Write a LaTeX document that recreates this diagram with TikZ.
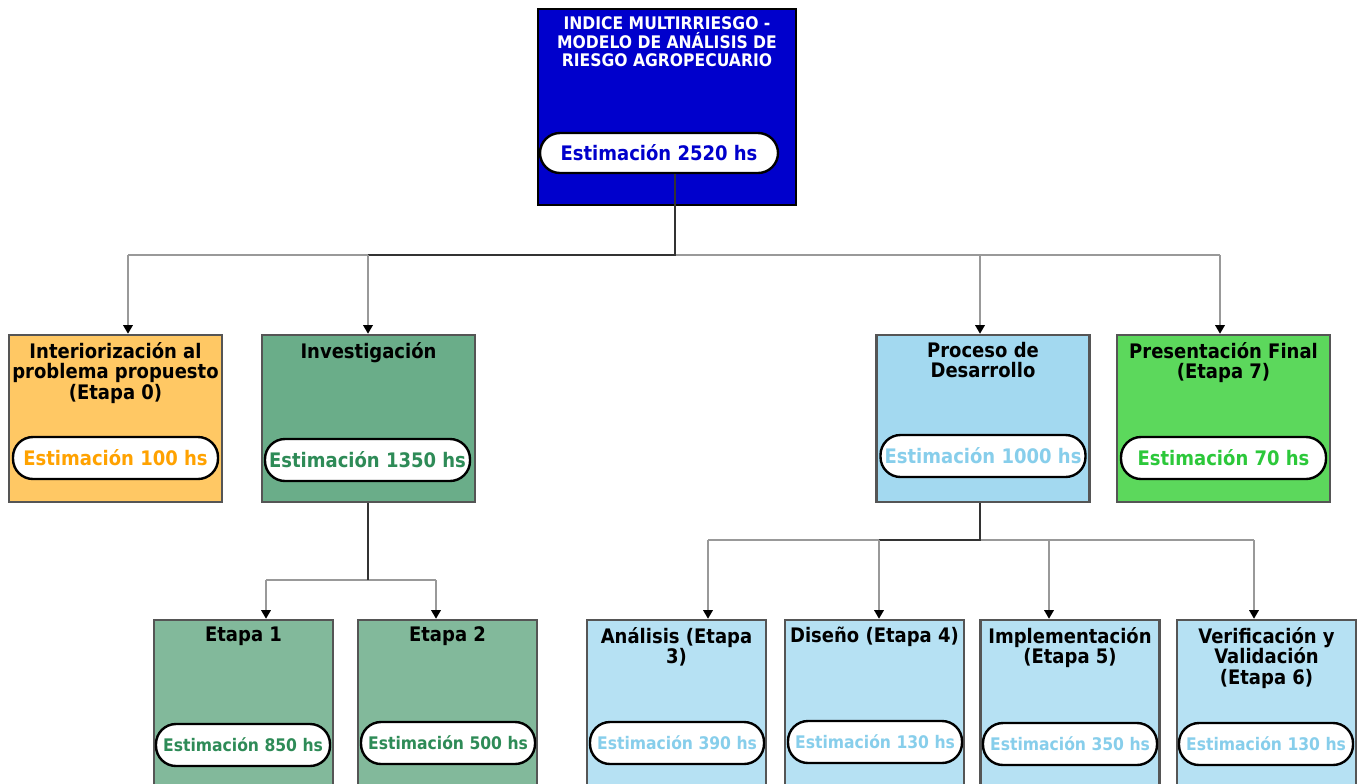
\documentclass[tikz,border=0pt]{standalone}
\usepackage{fontspec}
\setmainfont{DejaVu Sans}[FakeStretch=0.9]
\usetikzlibrary{arrows.meta,positioning}
\definecolor{raiz}{HTML}{0000CC}
\definecolor{naranja}{HTML}{FFC864}
\definecolor{naranjatxt}{HTML}{FFA200}
\definecolor{verdeinv}{HTML}{6AAD89}
\definecolor{verdeet}{HTML}{82B99B}
\definecolor{verdetxt}{HTML}{2E8B57}
\definecolor{celeste}{HTML}{A3D9F0}
\definecolor{celestech}{HTML}{B6E1F3}
\definecolor{celestetxt}{HTML}{87CEEB}
\definecolor{verdefin}{HTML}{5CD85C}
\definecolor{verdefintxt}{HTML}{2CC83A}
\definecolor{cajaborde}{HTML}{555555}
\definecolor{gris}{HTML}{999999}
\definecolor{oscuro}{HTML}{333333}
\tikzset{
  caja/.style={draw=cajaborde, line width=1.8pt, minimum width=159.75pt, minimum height=125.25pt, inner sep=0pt},
  cajachica/.style={caja, minimum width=134.25pt, minimum height=150pt},
  titulo/.style={anchor=north, align=center, inner sep=0pt, font=\fontsize{15}{15.5}\selectfont\bfseries},
  pildora/.style={draw=black, fill=white, line width=1.8pt, rounded corners=15pt, minimum width=153.75pt, minimum height=31.5pt, inner sep=0pt, font=\fontsize{15}{15}\selectfont\bfseries},
  pildorachica/.style={pildora, minimum width=130.5pt, font=\fontsize{13}{13}\selectfont\bfseries},
  linea/.style={draw=gris, line width=1.6pt},
  flecha/.style={linea, -{Triangle[length=6.5pt,width=7pt,color=black]}},
  tronco/.style={draw=oscuro, line width=1.6pt}
}
\begin{document}
\begin{tikzpicture}[x=0.75pt,y=-0.75pt]
  \useasboundingbox (0,0) rectangle (1362,783);
  \clip (0,0) rectangle (1362,783);
  % raiz
  \node[caja, draw=black, line width=2.2pt, fill=raiz, minimum width=193.5pt, minimum height=147pt] (r) at (667,107) {};
  \node[titulo, text=white, font=\fontsize{13}{14}\selectfont\bfseries] (rT) at ([yshift=-6.5pt]r.north) {INDICE MULTIRRIESGO -\\MODELO DE ANÁLISIS DE\\RIESGO AGROPECUARIO};
  \node[pildora, minimum width=178.5pt, minimum height=30pt, text=raiz] (rE) at (659,153) {Estimación 2520 hs};
  % nivel 1
  \node[caja, fill=naranja] (c0) at (115.5,418.5) {};
  \node[titulo] (t0) at ([yshift=-6pt]c0.north) {Interiorización al\\problema propuesto\\(Etapa 0)};
  \node[pildora, text=naranjatxt] (e0) at (115.5,458) {Estimación 100 hs};
  \node[caja, fill=verdeinv] (ci) at (368.5,418.5) {};
  \node[titulo] (ti) at ([yshift=-6pt]ci.north) {Investigación};
  \node[pildora, text=verdetxt] (ei) at (367.5,460) {Estimación 1350 hs};
  \node[caja, fill=celeste] (cp) at (983,418.5) {};
  \node[titulo] (tp) at ([yshift=-6pt]cp.north) {Proceso de\\Desarrollo};
  \node[pildora, text=celestetxt] (ep) at (983,456) {Estimación 1000 hs};
  \node[caja, fill=verdefin] (c7) at (1223.5,418.5) {};
  \node[titulo] (t7) at ([yshift=-6pt]c7.north) {Presentación Final\\(Etapa 7)};
  \node[pildora, text=verdefintxt] (e7) at (1223.5,458) {Estimación 70 hs};
  % nivel 2
  \node[cajachica, fill=verdeet] (c1) at (243.5,720) {};
  \node[titulo] (t1) at ([yshift=-6pt]c1.north) {Etapa 1};
  \node[pildorachica, text=verdetxt] (e1) at (243,745) {Estimación 850 hs};
  \node[cajachica, fill=verdeet] (c2) at (447.5,720) {};
  \node[titulo] (t2) at ([yshift=-6pt]c2.north) {Etapa 2};
  \node[pildorachica, text=verdetxt] (e2) at (448,743) {Estimación 500 hs};
  \node[cajachica, fill=celestech] (c3) at (676.5,720) {};
  \node[titulo] (t3) at ([yshift=-6pt]c3.north) {Análisis (Etapa\\3)};
  \node[pildorachica, text=celestetxt] (e3) at (677,743) {Estimación 390 hs};
  \node[cajachica, fill=celestech] (c4) at (874.5,720) {};
  \node[titulo] (t4) at ([yshift=-6pt]c4.north) {Diseño (Etapa 4)};
  \node[pildorachica, text=celestetxt] (e4) at (875,742) {Estimación 130 hs};
  \node[cajachica, fill=celestech] (c5) at (1070,720) {};
  \node[titulo] (t5) at ([yshift=-6pt]c5.north) {Implementación\\(Etapa 5)};
  \node[pildorachica, text=celestetxt] (e5) at (1070,744) {Estimación 350 hs};
  \node[cajachica, fill=celestech] (c6) at (1266.5,720) {};
  \node[titulo] (t6) at ([yshift=-6pt]c6.north) {Verificación y\\Validación\\(Etapa 6)};
  \node[pildorachica, text=celestetxt] (e6) at (1266,744) {Estimación 130 hs};
  % conectores
  \coordinate (bus) at (675,255);
  \coordinate (b0) at (128,255);
  \coordinate (bi) at (368,255);
  \coordinate (bp) at (980,255);
  \coordinate (b7) at (1220,255);
  \draw[linea] (b0) -- (b7);
  \draw[tronco] (rE.south -| bus) -- (bus) -- (bi);
  \foreach \b/\c in {b0/c0,bi/ci,bp/cp,b7/c7}
    \draw[flecha] (\b) -- (\b |- \c.north);
  \coordinate (si) at (368,580);
  \coordinate (s1) at (266,580);
  \coordinate (s2) at (436,580);
  \draw[linea] (s1) -- (s2);
  \draw[tronco] (ci.south -| si) -- (si);
  \foreach \b/\c in {s1/c1,s2/c2}
    \draw[flecha] (\b) -- (\b |- \c.north);
  \coordinate (sp) at (980,540);
  \coordinate (s3) at (708,540);
  \coordinate (s4) at (879,540);
  \coordinate (s5) at (1049,540);
  \coordinate (s6) at (1254,540);
  \draw[linea] (s3) -- (s6);
  \draw[tronco] (cp.south -| sp) -- (sp) -- (s4);
  \foreach \b/\c in {s3/c3,s4/c4,s5/c5,s6/c6}
    \draw[flecha] (\b) -- (\b |- \c.north);
\end{tikzpicture}
\end{document}
